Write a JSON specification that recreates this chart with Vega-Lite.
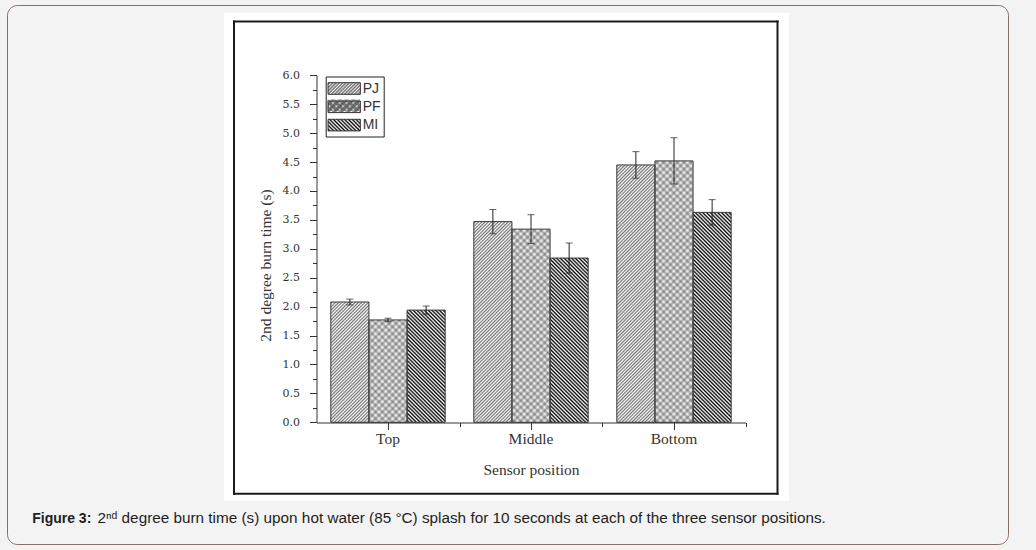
{
  "$schema": "https://vega.github.io/schema/vega-lite/v6.json",
  "width": 565,
  "height": 488,
  "autosize": {"type": "none"},
  "padding": {"left": 224, "top": 13, "right": 247, "bottom": 49},
  "background": "#f3f3f3",
  "params": [
    {
      "name": "hatch",
      "value": [
        {"offset":0,"color":"#0000"},{"offset":0.005,"color":"#000"},{"offset":0.01,"color":"#0000"},{"offset":0.015,"color":"#000"},
        {"offset":0.02,"color":"#0000"},{"offset":0.025,"color":"#000"},{"offset":0.03,"color":"#0000"},{"offset":0.035,"color":"#000"},
        {"offset":0.04,"color":"#0000"},{"offset":0.045,"color":"#000"},{"offset":0.05,"color":"#0000"},{"offset":0.055,"color":"#000"},
        {"offset":0.06,"color":"#0000"},{"offset":0.065,"color":"#000"},{"offset":0.07,"color":"#0000"},{"offset":0.075,"color":"#000"},
        {"offset":0.08,"color":"#0000"},{"offset":0.085,"color":"#000"},{"offset":0.09,"color":"#0000"},{"offset":0.095,"color":"#000"},
        {"offset":0.1,"color":"#0000"},{"offset":0.105,"color":"#000"},{"offset":0.11,"color":"#0000"},{"offset":0.115,"color":"#000"},
        {"offset":0.12,"color":"#0000"},{"offset":0.125,"color":"#000"},{"offset":0.13,"color":"#0000"},{"offset":0.135,"color":"#000"},
        {"offset":0.14,"color":"#0000"},{"offset":0.145,"color":"#000"},{"offset":0.15,"color":"#0000"},{"offset":0.155,"color":"#000"},
        {"offset":0.16,"color":"#0000"},{"offset":0.165,"color":"#000"},{"offset":0.17,"color":"#0000"},{"offset":0.175,"color":"#000"},
        {"offset":0.18,"color":"#0000"},{"offset":0.185,"color":"#000"},{"offset":0.19,"color":"#0000"},{"offset":0.195,"color":"#000"},
        {"offset":0.2,"color":"#0000"},{"offset":0.205,"color":"#000"},{"offset":0.21,"color":"#0000"},{"offset":0.215,"color":"#000"},
        {"offset":0.22,"color":"#0000"},{"offset":0.225,"color":"#000"},{"offset":0.23,"color":"#0000"},{"offset":0.235,"color":"#000"},
        {"offset":0.24,"color":"#0000"},{"offset":0.245,"color":"#000"},{"offset":0.25,"color":"#0000"},{"offset":0.255,"color":"#000"},
        {"offset":0.26,"color":"#0000"},{"offset":0.265,"color":"#000"},{"offset":0.27,"color":"#0000"},{"offset":0.275,"color":"#000"},
        {"offset":0.28,"color":"#0000"},{"offset":0.285,"color":"#000"},{"offset":0.29,"color":"#0000"},{"offset":0.295,"color":"#000"},
        {"offset":0.3,"color":"#0000"},{"offset":0.305,"color":"#000"},{"offset":0.31,"color":"#0000"},{"offset":0.315,"color":"#000"},
        {"offset":0.32,"color":"#0000"},{"offset":0.325,"color":"#000"},{"offset":0.33,"color":"#0000"},{"offset":0.335,"color":"#000"},
        {"offset":0.34,"color":"#0000"},{"offset":0.345,"color":"#000"},{"offset":0.35,"color":"#0000"},{"offset":0.355,"color":"#000"},
        {"offset":0.36,"color":"#0000"},{"offset":0.365,"color":"#000"},{"offset":0.37,"color":"#0000"},{"offset":0.375,"color":"#000"},
        {"offset":0.38,"color":"#0000"},{"offset":0.385,"color":"#000"},{"offset":0.39,"color":"#0000"},{"offset":0.395,"color":"#000"},
        {"offset":0.4,"color":"#0000"},{"offset":0.405,"color":"#000"},{"offset":0.41,"color":"#0000"},{"offset":0.415,"color":"#000"},
        {"offset":0.42,"color":"#0000"},{"offset":0.425,"color":"#000"},{"offset":0.43,"color":"#0000"},{"offset":0.435,"color":"#000"},
        {"offset":0.44,"color":"#0000"},{"offset":0.445,"color":"#000"},{"offset":0.45,"color":"#0000"},{"offset":0.455,"color":"#000"},
        {"offset":0.46,"color":"#0000"},{"offset":0.465,"color":"#000"},{"offset":0.47,"color":"#0000"},{"offset":0.475,"color":"#000"},
        {"offset":0.48,"color":"#0000"},{"offset":0.485,"color":"#000"},{"offset":0.49,"color":"#0000"},{"offset":0.495,"color":"#000"},
        {"offset":0.5,"color":"#0000"},{"offset":0.505,"color":"#000"},{"offset":0.51,"color":"#0000"},{"offset":0.515,"color":"#000"},
        {"offset":0.52,"color":"#0000"},{"offset":0.525,"color":"#000"},{"offset":0.53,"color":"#0000"},{"offset":0.535,"color":"#000"},
        {"offset":0.54,"color":"#0000"},{"offset":0.545,"color":"#000"},{"offset":0.55,"color":"#0000"},{"offset":0.555,"color":"#000"},
        {"offset":0.56,"color":"#0000"},{"offset":0.565,"color":"#000"},{"offset":0.57,"color":"#0000"},{"offset":0.575,"color":"#000"},
        {"offset":0.58,"color":"#0000"},{"offset":0.585,"color":"#000"},{"offset":0.59,"color":"#0000"},{"offset":0.595,"color":"#000"},
        {"offset":0.6,"color":"#0000"},{"offset":0.605,"color":"#000"},{"offset":0.61,"color":"#0000"},{"offset":0.615,"color":"#000"},
        {"offset":0.62,"color":"#0000"},{"offset":0.625,"color":"#000"},{"offset":0.63,"color":"#0000"},{"offset":0.635,"color":"#000"},
        {"offset":0.64,"color":"#0000"},{"offset":0.645,"color":"#000"},{"offset":0.65,"color":"#0000"},{"offset":0.655,"color":"#000"},
        {"offset":0.66,"color":"#0000"},{"offset":0.665,"color":"#000"},{"offset":0.67,"color":"#0000"},{"offset":0.675,"color":"#000"},
        {"offset":0.68,"color":"#0000"},{"offset":0.685,"color":"#000"},{"offset":0.69,"color":"#0000"},{"offset":0.695,"color":"#000"},
        {"offset":0.7,"color":"#0000"},{"offset":0.705,"color":"#000"},{"offset":0.71,"color":"#0000"},{"offset":0.715,"color":"#000"},
        {"offset":0.72,"color":"#0000"},{"offset":0.725,"color":"#000"},{"offset":0.73,"color":"#0000"},{"offset":0.735,"color":"#000"},
        {"offset":0.74,"color":"#0000"},{"offset":0.745,"color":"#000"},{"offset":0.75,"color":"#0000"},{"offset":0.755,"color":"#000"},
        {"offset":0.76,"color":"#0000"},{"offset":0.765,"color":"#000"},{"offset":0.77,"color":"#0000"},{"offset":0.775,"color":"#000"},
        {"offset":0.78,"color":"#0000"},{"offset":0.785,"color":"#000"},{"offset":0.79,"color":"#0000"},{"offset":0.795,"color":"#000"},
        {"offset":0.8,"color":"#0000"},{"offset":0.805,"color":"#000"},{"offset":0.81,"color":"#0000"},{"offset":0.815,"color":"#000"},
        {"offset":0.82,"color":"#0000"},{"offset":0.825,"color":"#000"},{"offset":0.83,"color":"#0000"},{"offset":0.835,"color":"#000"},
        {"offset":0.84,"color":"#0000"},{"offset":0.845,"color":"#000"},{"offset":0.85,"color":"#0000"},{"offset":0.855,"color":"#000"},
        {"offset":0.86,"color":"#0000"},{"offset":0.865,"color":"#000"},{"offset":0.87,"color":"#0000"},{"offset":0.875,"color":"#000"},
        {"offset":0.88,"color":"#0000"},{"offset":0.885,"color":"#000"},{"offset":0.89,"color":"#0000"},{"offset":0.895,"color":"#000"},
        {"offset":0.9,"color":"#0000"},{"offset":0.905,"color":"#000"},{"offset":0.91,"color":"#0000"},{"offset":0.915,"color":"#000"},
        {"offset":0.92,"color":"#0000"},{"offset":0.925,"color":"#000"},{"offset":0.93,"color":"#0000"},{"offset":0.935,"color":"#000"},
        {"offset":0.94,"color":"#0000"},{"offset":0.945,"color":"#000"},{"offset":0.95,"color":"#0000"},{"offset":0.955,"color":"#000"},
        {"offset":0.96,"color":"#0000"},{"offset":0.965,"color":"#000"},{"offset":0.97,"color":"#0000"},{"offset":0.975,"color":"#000"},
        {"offset":0.98,"color":"#0000"},{"offset":0.985,"color":"#000"},{"offset":0.99,"color":"#0000"},{"offset":0.995,"color":"#000"},
        {"offset":1,"color":"#0000"}
      ]
    },
    {
      "name": "legendHatch",
      "value": [
        {"offset":0,"color":"#0000"},{"offset":0.025,"color":"#777"},{"offset":0.05,"color":"#0000"},{"offset":0.075,"color":"#777"},
        {"offset":0.1,"color":"#0000"},{"offset":0.125,"color":"#777"},{"offset":0.15,"color":"#0000"},{"offset":0.175,"color":"#777"},
        {"offset":0.2,"color":"#0000"},{"offset":0.225,"color":"#777"},{"offset":0.25,"color":"#0000"},{"offset":0.275,"color":"#777"},
        {"offset":0.3,"color":"#0000"},{"offset":0.325,"color":"#777"},{"offset":0.35,"color":"#0000"},{"offset":0.375,"color":"#777"},
        {"offset":0.4,"color":"#0000"},{"offset":0.425,"color":"#777"},{"offset":0.45,"color":"#0000"},{"offset":0.475,"color":"#777"},
        {"offset":0.5,"color":"#0000"},{"offset":0.525,"color":"#777"},{"offset":0.55,"color":"#0000"},{"offset":0.575,"color":"#777"},
        {"offset":0.6,"color":"#0000"},{"offset":0.625,"color":"#777"},{"offset":0.65,"color":"#0000"},{"offset":0.675,"color":"#777"},
        {"offset":0.7,"color":"#0000"},{"offset":0.725,"color":"#777"},{"offset":0.75,"color":"#0000"},{"offset":0.775,"color":"#777"},
        {"offset":0.8,"color":"#0000"},{"offset":0.825,"color":"#777"},{"offset":0.85,"color":"#0000"},{"offset":0.875,"color":"#777"},
        {"offset":0.9,"color":"#0000"},{"offset":0.925,"color":"#777"},{"offset":0.95,"color":"#0000"},{"offset":0.975,"color":"#777"},
        {"offset":1,"color":"#0000"}
      ]
    }
  ],
  "data": {
    "values": [
      {"position": "Top", "series": "PJ", "value": 2.08, "err": 0.05},
      {"position": "Top", "series": "PF", "value": 1.77, "err": 0.03},
      {"position": "Top", "series": "MI", "value": 1.94, "err": 0.07},
      {"position": "Middle", "series": "PJ", "value": 3.47, "err": 0.21},
      {"position": "Middle", "series": "PF", "value": 3.34, "err": 0.25},
      {"position": "Middle", "series": "MI", "value": 2.84, "err": 0.26},
      {"position": "Bottom", "series": "PJ", "value": 4.45, "err": 0.23},
      {"position": "Bottom", "series": "PF", "value": 4.52, "err": 0.4},
      {"position": "Bottom", "series": "MI", "value": 3.63, "err": 0.22}
    ]
  },
  "config": {
    "view": {"fill": "#ffffff", "stroke": null},
    "axis": {"grid": false, "domainColor": "#333333", "tickColor": "#333333", "labelColor": "#333333", "titleColor": "#333333"}
  },
  "resolve": {
    "scale": {"x": "independent", "y": "independent", "shape": "independent", "fill": "independent"},
    "axis": {"x": "independent", "y": "independent"},
    "legend": {"shape": "independent"}
  },
  "layer": [
    {
      "encoding": {
        "x": {
          "field": "position",
          "type": "nominal",
          "scale": {"domain": ["Top", "Middle", "Bottom"], "range": [92.5, 521.5], "paddingInner": 0.2, "paddingOuter": 0.1},
          "axis": {
            "orient": "bottom",
            "offset": -78.5,
            "zindex": 1,
            "labelAngle": 0,
            "labelFont": "Liberation Serif",
            "labelFontSize": 15.5,
            "labelPadding": 2,
            "tickSize": 7,
            "title": "Sensor position",
            "titleFont": "Liberation Serif",
            "titleFontSize": 15.5,
            "titleFontWeight": "normal",
            "titlePadding": 15
          }
        },
        "xOffset": {
          "field": "series",
          "type": "nominal",
          "scale": {"domain": ["PJ", "PF", "MI"], "paddingInner": 0, "paddingOuter": 0}
        },
        "y": {
          "field": "value",
          "type": "quantitative",
          "scale": {"domain": [0, 6], "range": [409.3, 62.3], "nice": false},
          "axis": {
            "orient": "left",
            "offset": -92.5,
            "zindex": 1,
            "values": [0, 0.25, 0.5, 0.75, 1, 1.25, 1.5, 1.75, 2, 2.25, 2.5, 2.75, 3, 3.25, 3.5, 3.75, 4, 4.25, 4.5, 4.75, 5, 5.25, 5.5, 5.75, 6],
            "labelExpr": "datum.value % 0.5 === 0 ? format(datum.value, '.1f') : ''",
            "labelOverlap": false,
            "labelFlush": false,
            "tickSize": {"condition": {"test": "datum.value % 0.5 === 0", "value": 7}, "value": 4},
            "labelFont": "DejaVu Serif",
            "labelFontSize": 11,
            "labelPadding": 10,
            "title": "2nd degree burn time (s)",
            "titleFont": "Liberation Serif",
            "titleFontSize": 15.5,
            "titleFontWeight": "normal",
            "titlePadding": 9,
            "titleY": 252
          }
        }
      },
      "layer": [
        {
          "mark": {"type": "bar", "fill": "#ffffff"}
        },
        {
          "transform": [{"filter": "datum.series !== 'MI'"}],
          "mark": {
            "type": "bar",
            "fill": {"expr": "{gradient: 'linear', x1: 0, y1: 0, x2: (datum.series === 'PF' ? 680 : 330) * 38.13 / (1453.9 + pow(57.83 * datum.value, 2)), y2: (datum.series === 'PF' ? 680 : 330) * 57.83 * datum.value / (1453.9 + pow(57.83 * datum.value, 2)), stops: hatch}"},
            "fillOpacity": {"expr": "datum.series === 'PF' ? 0.3 : 0.55"}
          }
        },
        {
          "transform": [{"filter": "datum.series !== 'PJ'"}],
          "mark": {
            "type": "bar",
            "fill": {"expr": "{gradient: 'linear', x1: 0, y1: 1, x2: (datum.series === 'PF' ? 680 : 375) * 38.13 / (1453.9 + pow(57.83 * datum.value, 2)), y2: 1 - (datum.series === 'PF' ? 680 : 375) * 57.83 * datum.value / (1453.9 + pow(57.83 * datum.value, 2)), stops: hatch}"},
            "fillOpacity": {"expr": "datum.series === 'PF' ? 0.3 : 1"}
          }
        },
        {
          "mark": {"type": "bar", "fillOpacity": 0, "stroke": "#3a3a3a", "strokeWidth": 1}
        },
        {
          "mark": {"type": "errorbar", "ticks": {"size": 7}, "thickness": 1, "color": "#222222"},
          "encoding": {"yError": {"field": "err"}}
        }
      ]
    },
    {
      "mark": {"type": "point", "opacity": 0},
      "encoding": {
        "x": {
          "field": "value",
          "type": "quantitative",
          "scale": {"domain": [0, 6], "range": [9.5, 553]},
          "axis": {
            "orient": "top", "offset": -8, "ticks": false, "labels": false,
            "domainColor": "#1a1a1a", "domainWidth": 2, "domainCap": "square",
            "title": "Figure 3:",
            "titleX": -192.3, "titleY": 501.5, "titleAlign": "left", "titleBaseline": "alphabetic", "titleAngle": 0,
            "titleFont": "Liberation Sans", "titleFontSize": 14, "titleFontWeight": "bold", "titleColor": "#1e1e1e"
          }
        },
        "y": {
          "field": "value",
          "type": "quantitative",
          "scale": {"domain": [0, 6], "range": [480.3, 8]},
          "axis": {"orient": "right", "offset": -12, "ticks": false, "labels": false, "title": null, "domainColor": "#1a1a1a", "domainWidth": 2, "domainCap": "square"}
        },
        "stroke": {
          "field": "value",
          "type": "quantitative",
          "legend": {
            "orient": "none",
            "legendX": -217,
            "legendY": -8,
            "direction": "horizontal",
            "gradientLength": 1001,
            "gradientThickness": 538,
            "title": null,
            "padding": 0,
            "strokeColor": "#8d6e66",
            "cornerRadius": 10,
            "gradientOpacity": 0,
            "gradientStrokeWidth": 0,
            "labelOpacity": 0,
            "labelFontSize": 1,
            "labelOffset": 0
          }
        }
      }
    },
    {
      "mark": {"type": "point", "opacity": 0, "filled": true},
      "encoding": {
        "x": {
          "field": "value",
          "type": "quantitative",
          "scale": {"domain": [0, 6], "range": [9.5, 553]},
          "axis": {
            "orient": "bottom", "offset": -7.7, "ticks": false, "labels": false,
            "domainColor": "#1a1a1a", "domainWidth": 2, "domainCap": "square",
            "title": "2ⁿᵈ degree burn time (s) upon hot water (85 °C) splash for 10 seconds at each of the three sensor positions.",
            "titleX": -127, "titleY": 29.2, "titleAlign": "left", "titleBaseline": "alphabetic", "titleAngle": 0,
            "titleFont": "Liberation Sans", "titleFontSize": 15.3, "titleFontWeight": "normal", "titleColor": "#1e1e1e", "titleLimit": 1000
          }
        },
        "y": {
          "field": "value",
          "type": "quantitative",
          "scale": {"domain": [0, 6], "range": [480.3, 8]},
          "axis": {"orient": "left", "offset": -9.5, "ticks": false, "labels": false, "title": null, "domainColor": "#1a1a1a", "domainWidth": 2, "domainCap": "square"}
        },
        "fill": {"field": "position", "type": "nominal", "legend": null},
        "shape": {
          "field": "series",
          "type": "nominal",
          "scale": {"domain": ["PJ", "PF", "MI"], "range": ["M-2,-0.72H2V0.72H-2Z", "M-2,-0.72H2V0.72H-2Z", "M-2,-0.72H2V0.72H-2Z"]},
          "legend": {
            "orient": "none",
            "legendX": 101.7,
            "legendY": 63.5,
            "title": null,
            "padding": 3,
            "fillColor": "#ffffff",
            "strokeColor": "#222222",
            "symbolSize": 261,
            "symbolOffset": 6.5,
            "symbolOpacity": 1,
            "symbolStrokeColor": "#333333",
            "symbolStrokeWidth": 1,
            "symbolFillColor": {"expr": "datum.value === 'MI' ? {gradient: 'linear', x1: 0, y1: 1, x2: 10.28, y2: -2.69, stops: hatch} : {gradient: 'linear', x1: 0, y1: 0, x2: datum.value === 'PF' ? 3.73 : 1.81, y2: datum.value === 'PF' ? 1.34 : 0.65, stops: legendHatch}"},
            "labelFont": "Liberation Sans",
            "labelFontSize": 14,
            "labelColor": "#333333",
            "labelOffset": 9.5,
            "rowPadding": 1.3
          }
        }
      }
    },
    {
      "mark": {"type": "point", "opacity": 0, "filled": true},
      "encoding": {
        "x": {
          "field": "value",
          "type": "quantitative",
          "scale": {"domain": [0, 3], "range": [92.5, 521.5]},
          "axis": {"orient": "bottom", "offset": -78.5, "values": [1, 2, 3], "domain": false, "labels": false, "ticks": true, "tickSize": 4, "title": null, "tickColor": "#333333"}
        },
        "y": {
          "field": "value",
          "type": "quantitative",
          "scale": {"domain": [0, 6], "range": [480.3, 8]},
          "axis": null
        },
        "fill": {"field": "position", "type": "nominal", "legend": null},
        "shape": {
          "field": "series",
          "type": "nominal",
          "scale": {"domain": ["PJ", "PF", "MI"], "range": ["M-2,-0.72H2V0.72H-2Z", "M-2,-0.72H2V0.72H-2Z", "M-2,-0.72H2V0.72H-2Z"]},
          "legend": {
            "orient": "none",
            "legendX": 101.7,
            "legendY": 63.5,
            "title": null,
            "padding": 3,
            "fillColor": "transparent",
            "strokeColor": "transparent",
            "symbolSize": 261,
            "symbolOffset": 6.5,
            "symbolOpacity": 1,
            "symbolStrokeColor": "transparent",
            "symbolStrokeWidth": 0,
            "symbolFillColor": {"expr": "datum.value === 'PF' ? {gradient: 'linear', x1: 0, y1: 1, x2: 3.73, y2: -0.34, stops: legendHatch} : 'transparent'"},
            "labelExpr": "''",
            "labelFont": "Liberation Sans",
            "labelFontSize": 14,
            "labelOffset": 9.5,
            "rowPadding": 1.3
          }
        }
      }
    }
  ]
}
